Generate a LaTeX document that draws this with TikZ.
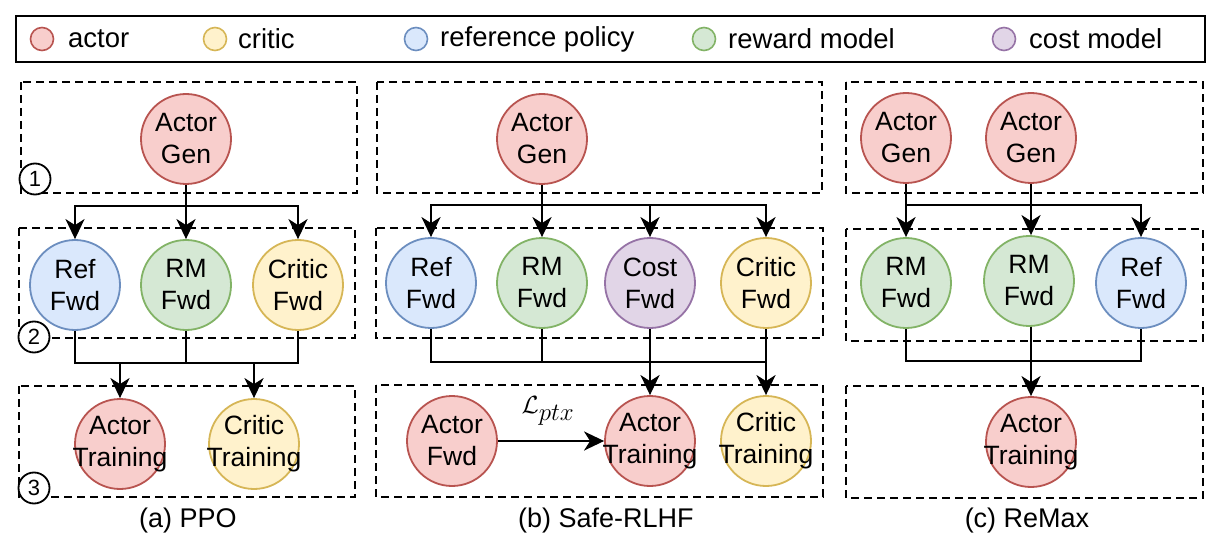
\documentclass[tikz,border=0pt]{standalone}
\usepackage{fontspec}
\setmainfont{Liberation Sans}
\usetikzlibrary{arrows.meta}
\definecolor{actF}{HTML}{F8CECC}\definecolor{actD}{HTML}{B85450}
\definecolor{criF}{HTML}{FFF2CC}\definecolor{criD}{HTML}{D6B656}
\definecolor{refF}{HTML}{DAE8FC}\definecolor{refD}{HTML}{6C8EBF}
\definecolor{rwdF}{HTML}{D5E8D4}\definecolor{rwdD}{HTML}{82B366}
\definecolor{cstF}{HTML}{E1D5E7}\definecolor{cstD}{HTML}{9673A6}
\tikzset{
  txt/.style={font=\fontsize{26.5}{32}\selectfont, align=center, inner sep=0pt},
  base/.style={circle, line width=1.8pt, minimum size=90pt, inner sep=0pt},
  actorn/.style={base, fill=actF, draw=actD, label={[txt]center:#1}},
  criticn/.style={base, fill=criF, draw=criD, label={[txt]center:#1}},
  refn/.style={base, fill=refF, draw=refD, label={[txt]center:#1}},
  rwdn/.style={base, fill=rwdF, draw=rwdD, label={[txt]center:#1}},
  costn/.style={base, fill=cstF, draw=cstD, label={[txt]center:#1}},
  legc/.style={circle, line width=1.6pt, minimum size=23pt, inner sep=0pt},
  legt/.style={font=\fontsize{27.5}{30}\selectfont, anchor=west, inner sep=0pt},
  stagebox/.style={draw, line width=1.8pt, dash pattern=on 8pt off 5pt},
  conn/.style={line width=2.5pt},
  arr/.style={conn, -{Stealth[length=20pt,width=19pt,inset=6pt]}},
  marker/.style={circle, draw, fill=white, line width=1.8pt, minimum size=31pt, inner sep=0pt, font=\fontsize{22}{22}\selectfont},
  captxt/.style={font=\fontsize{27}{30}\selectfont, inner sep=0pt},
}
\begin{document}
\begin{tikzpicture}[x=1pt,y=-1pt]
\useasboundingbox (0,0) rectangle (1224,548);
% legend
\draw[line width=1.8pt] (16,16) rectangle (1205,62);
\node[legc, fill=actF, draw=actD] (l1) at (42,39) {};
\node[legt] (l1t) at (68,39) {actor};
\node[legc, fill=criF, draw=criD] (l2) at (215,39) {};
\node[legt] (l2t) at (238,39) {critic};
\node[legc, fill=refF, draw=refD] (l3) at (416,39) {};
\node[legt] (l3t) at (440,39) {reference policy};
\node[legc, fill=rwdF, draw=rwdD] (l4) at (704,39) {};
\node[legt] (l4t) at (728,39) {reward model};
\node[legc, fill=cstF, draw=cstD] (l5) at (1004,39) {};
\node[legt] (l5t) at (1029,39) {cost model};

% ---------------- (a) PPO
\draw[stagebox] (21,82) rectangle (357,193);
\draw[stagebox] (19,228) rectangle (355,338);
\draw[stagebox] (19,386) rectangle (355,497);
\node[actorn={Actor\\Gen}] (pg) at (186,139) {};
\node[refn={Ref\\Fwd}] (pref) at (75,285) {};
\node[rwdn={RM\\Fwd}] (prm) at (186,285) {};
\node[criticn={Critic\\Fwd}] (pcri) at (298,285) {};
\node[actorn={Actor\\Training}] (pat) at (120,444) {};
\node[criticn={Critic\\Training}] (pct) at (254,444) {};
\coordinate (pj) at (186,206);
\draw[conn] (pg.south) -- (pj);
\draw[arr] (pj) -| (pref.north);
\draw[arr] (pj) -- (prm.north);
\draw[arr] (pj) -| (pcri.north);
\coordinate (pm) at (186,363);
\draw[conn] (pref.south) |- (pm) -| (pcri.south);
\draw[conn] (prm.south) -- (pm);
\draw[arr] (pat.north |- pm) -- (pat.north);
\draw[arr] (pct.north |- pm) -- (pct.north);
\node[marker] (m1) at (35,179) {1};
\node[marker] (m2) at (34,337) {2};
\node[marker] (m3) at (34,488) {3};
\node[captxt] (capa) at (188,521) {(a) PPO};

% ---------------- (b) Safe-RLHF
\draw[stagebox] (377,82) rectangle (822,193);
\draw[stagebox] (376,228) rectangle (823,338);
\draw[stagebox] (376,385) rectangle (823,497);
\node[actorn={Actor\\Gen}] (sg) at (542,139) {};
\node[refn={Ref\\Fwd}] (sref) at (431,283) {};
\node[rwdn={RM\\Fwd}] (srm) at (542,283) {};
\node[costn={Cost\\Fwd}] (scost) at (650,283) {};
\node[criticn={Critic\\Fwd}] (scri) at (766,283) {};
\node[actorn={Actor\\Fwd}] (saf) at (452,441) {};
\node[actorn={Actor\\Training}] (sat) at (650,441) {};
\node[criticn={Critic\\Training}] (sct) at (766,441) {};
\coordinate (sj) at (542,205);
\draw[conn] (sg.south) -- (sj);
\draw[arr] (sj) -| (sref.north);
\draw[arr] (sj) -- (srm.north);
\draw[arr] (sj) -| (scost.north);
\draw[arr] (sj) -| (scri.north);
\coordinate (sm) at (542,362);
\draw[conn] (sref.south) |- (sm) -| (scri.south);
\draw[conn] (srm.south) -- (sm);
\draw[arr] (scost.south) -- (sat.north);
\draw[arr] (scri.south) -- (sct.north);
\draw[arr] (saf) -- (sat);
\node[font=\fontsize{33}{36}\selectfont, inner sep=0pt] (lptx) at (548,411) {$\mathcal{L}_{ptx}$};
\node[captxt] (capb) at (606,521) {(b) Safe-RLHF};

% ---------------- (c) ReMax
\draw[stagebox] (846,82) rectangle (1203,193);
\draw[stagebox] (846,229) rectangle (1203,341);
\draw[stagebox] (846,386) rectangle (1203,498);
\node[actorn={Actor\\Gen}] (rg1) at (906,138) {};
\node[actorn={Actor\\Gen}] (rg2) at (1031,138) {};
\node[rwdn={RM\\Fwd}] (rr1) at (906,283) {};
\node[rwdn={RM\\Fwd}] (rr2) at (1029,281) {};
\node[refn={Ref\\Fwd}] (rref) at (1141,283) {};
\node[actorn={Actor\\Training}] (rat) at (1031,442) {};
\coordinate (rj) at (906,205);
\draw[arr] (rg1.south) -- (rr1.north);
\draw[arr] (rg2.south) -- (rg2.south |- rr2.north);
\draw[arr] (rj) -| (rref.north);
\coordinate (rm) at (1031,361);
\draw[conn] (rr1.south) |- (rm) -| (rref.south);
\draw[arr] (rr2.south -| rat.north) -- (rat.north);
\node[captxt] (capc) at (1027,521) {(c) ReMax};
\end{tikzpicture}
\end{document}
